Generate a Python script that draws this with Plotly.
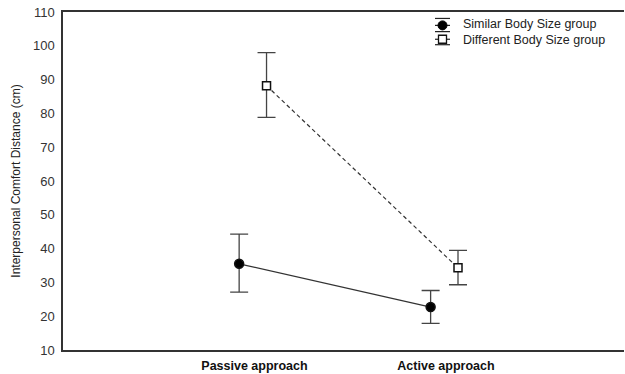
import plotly.graph_objects as go

categories = ["Passive approach", "Active approach"]
cat_pos = [1, 2]
groups = ["Similar Body Size group", "Different Body Size group"]
similar_mean = [35.5, 22.7]
similar_upper = [44.3, 27.6]
similar_lower = [27.1, 17.9]
different_mean = [88.2, 34.3]
different_upper = [98.0, 39.5]
different_lower = [78.8, 29.3]
group_offset = [-0.08, 0.063]
y_ticks = [10, 20, 30, 40, 50, 60, 70, 80, 90, 100, 110]

W, H = 625, 374
ML, MR, MT, MB = 63, 1, 12, 21
PW, PH = W - ML - MR, H - MT - MB

def px(x):
    return (x - ML) / PW

def py(y):
    return (H - MB - y) / PH

fig = go.Figure()

def add_group(name, mean, upper, lower, offset, symbol, fill, dash):
    xs = [p + offset for p in cat_pos]
    fig.add_trace(go.Scatter(
        x=xs, y=mean, name=name, mode="lines+markers", showlegend=False,
        line=dict(color="#333333", width=1.2, dash=dash),
        marker=dict(symbol=symbol, size=9 if symbol == "circle" else 8,
                    color=fill, line=dict(color="#111111", width=1.5)),
        error_y=dict(type="data", symmetric=False,
                     array=[u - m for u, m in zip(upper, mean)],
                     arrayminus=[m - l for m, l in zip(mean, lower)],
                     color="#444444", thickness=1.3, width=9),
    ))

add_group(groups[0], similar_mean, similar_upper, similar_lower, group_offset[0],
          "circle", "#000000", "solid")
add_group(groups[1], different_mean, different_upper, different_lower, group_offset[1],
          "square", "#ffffff", "4px,3px")

# custom legend (error-bar style icons)
icon_x0, icon_x1, icon_cx = 435, 450, 442.5
line_style = dict(color="#222222", width=1.2)
shapes = []
for yy in [18.5, 25.5, 31.8, 39.5, 45.0]:
    shapes.append(dict(type="line", xref="paper", yref="paper",
                       x0=px(icon_x0), x1=px(icon_x1), y0=py(yy), y1=py(yy), line=line_style))
shapes.append(dict(type="circle", xref="paper", yref="paper", xsizemode="pixel", ysizemode="pixel",
                   xanchor=px(icon_cx), yanchor=py(25.5), x0=-4.5, x1=4.5, y0=-4.5, y1=4.5,
                   fillcolor="#000000", line=dict(color="#000000", width=1)))
shapes.append(dict(type="rect", xref="paper", yref="paper", xsizemode="pixel", ysizemode="pixel",
                   xanchor=px(icon_cx), yanchor=py(39.5), x0=-4, x1=4, y0=-4, y1=4,
                   fillcolor="#ffffff", line=dict(color="#111111", width=1.3)))
annotations = [dict(text="<br>".join(groups), xref="paper", yref="paper", x=px(461), y=py(32.5),
                    xanchor="left", yanchor="middle", align="left", showarrow=False,
                    font=dict(size=12.5, color="#222222",
                              family="Liberation Sans, Arial, sans-serif"))]

fig.update_layout(
    width=W, height=H,
    margin=dict(l=ML, r=MR, t=MT, b=MB),
    paper_bgcolor="white", plot_bgcolor="white",
    font=dict(family="Liberation Sans, Arial, sans-serif", color="#222222"),
    showlegend=False,
    shapes=shapes, annotations=annotations,
)
fig.update_xaxes(
    range=[0, 2.93], tickvals=cat_pos, ticktext=["<b>%s</b>" % c for c in categories],
    tickfont=dict(size=12.5, family="Liberation Sans, Arial", color="#111111"),
    showline=True, linecolor="#333333", linewidth=1.5, mirror=True,
    showgrid=False, zeroline=False, ticks="", ticklabelstandoff=3,
)
fig.update_yaxes(
    range=[10, 110], tickvals=y_ticks,
    tickfont=dict(size=13, color="#333333"),
    showline=True, linecolor="#333333", linewidth=1.5,
    showgrid=False, zeroline=False, ticks="", ticklabelstandoff=4,
    title=dict(text="Interpersonal Comfort Distance (cm)",
               font=dict(size=12, family="Liberation Sans Narrow, Liberation Sans, Arial", color="#222222"),
               standoff=10),
)

fig.write_html("out.html", config={"displayModeBar": False},
               post_script="document.body.style.margin='0';document.body.style.overflow='hidden';")
